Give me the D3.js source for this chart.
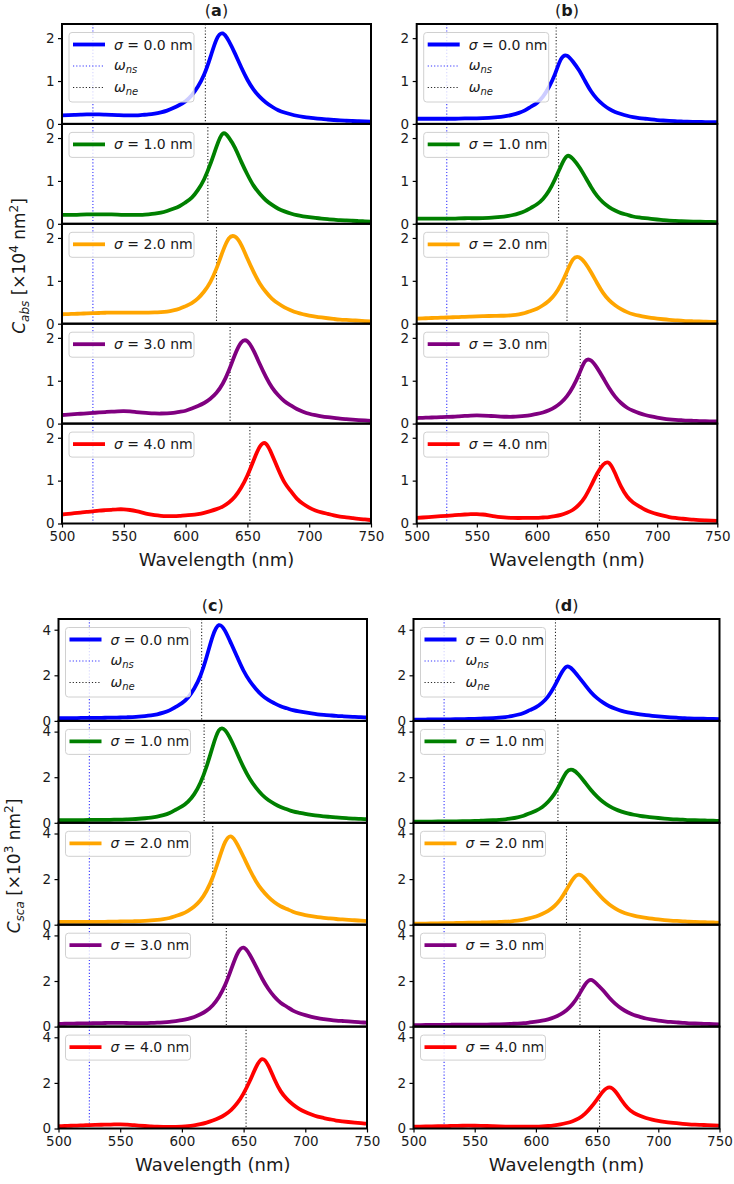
<!DOCTYPE html>
<html>
<head>
<meta charset="utf-8">
<script src="https://cdn.jsdelivr.net/npm/d3@7"></script>
<style>
  body { margin: 0; background: #fff; }
  svg { display: block; }
  text { font-family: "DejaVu Sans", sans-serif; fill: #1a1a1a; }
</style>
</head>
<body>
<svg id="fig" width="734" height="1184"></svg>
<script>
// Sample wavelengths (nm), every 5 nm, shared by every spectrum
const wavelengths = [500,505,510,515,520,525,530,535,540,545,550,555,560,565,570,575,580,585,590,595,600,605,610,615,620,625,630,635,640,645,650,655,660,665,670,675,680,685,690,695,700,705,710,715,720,725,730,735,740,745,750];

// Roughness sigma for each stacked row, and the row colours
const sigmaLabels = ["0.0", "1.0", "2.0", "3.0", "4.0"];
const rowColors = ["blue", "green", "orange", "purple", "red"];

// Resonance markers (nm)
const omegaNs = 525;
const omegaNe = [616, 618, 625, 636, 652];

// Tick values
const xTicks = [500, 550, 600, 650, 700, 750];
const absTicks = [0, 1, 2];
const scaTicks = [0, 2, 4];

// (a) absorption cross-section, x10^4 nm^2
const absA0 = [0.20,0.205,0.21,0.215,0.22,0.22,0.22,0.215,0.21,0.205,0.20,0.20,0.20,0.21,0.22,0.24,0.27,0.31,0.37,0.44,0.53,0.67,0.87,1.15,1.55,1.97,2.11,1.93,1.64,1.32,1.03,0.80,0.63,0.50,0.40,0.32,0.265,0.225,0.19,0.165,0.145,0.13,0.115,0.103,0.091,0.08,0.074,0.068,0.062,0.056,0.05];
const absA1 = [0.21,0.21,0.21,0.215,0.22,0.22,0.22,0.22,0.22,0.215,0.21,0.21,0.21,0.21,0.22,0.235,0.26,0.30,0.35,0.41,0.50,0.61,0.79,1.04,1.39,1.80,2.10,2.01,1.77,1.45,1.15,0.89,0.70,0.55,0.44,0.35,0.29,0.24,0.20,0.175,0.155,0.136,0.12,0.108,0.097,0.085,0.078,0.071,0.064,0.057,0.05];
const absA2 = [0.22,0.225,0.23,0.235,0.24,0.245,0.25,0.255,0.26,0.26,0.26,0.26,0.26,0.26,0.26,0.262,0.27,0.284,0.31,0.35,0.41,0.48,0.59,0.75,0.97,1.29,1.68,1.99,2.03,1.84,1.52,1.21,0.94,0.74,0.58,0.47,0.38,0.315,0.26,0.22,0.19,0.165,0.145,0.127,0.11,0.095,0.087,0.079,0.07,0.062,0.055];
const absA3 = [0.20,0.21,0.22,0.23,0.24,0.25,0.26,0.27,0.28,0.287,0.29,0.283,0.27,0.257,0.245,0.237,0.235,0.239,0.25,0.273,0.30,0.35,0.41,0.48,0.58,0.72,0.93,1.24,1.61,1.89,1.92,1.70,1.39,1.09,0.84,0.66,0.52,0.425,0.34,0.278,0.23,0.197,0.17,0.15,0.133,0.115,0.103,0.092,0.082,0.073,0.065];
const absA4 = [0.21,0.225,0.24,0.255,0.27,0.285,0.30,0.31,0.32,0.33,0.33,0.315,0.29,0.255,0.22,0.195,0.18,0.172,0.17,0.177,0.19,0.20,0.22,0.25,0.29,0.335,0.395,0.49,0.63,0.84,1.12,1.47,1.79,1.86,1.60,1.26,0.96,0.76,0.58,0.46,0.37,0.305,0.26,0.225,0.19,0.16,0.145,0.128,0.11,0.095,0.08];

// (b) absorption cross-section, x10^4 nm^2
const absB0 = [0.12,0.12,0.12,0.12,0.12,0.12,0.12,0.125,0.13,0.13,0.13,0.134,0.14,0.15,0.165,0.185,0.215,0.257,0.315,0.40,0.49,0.635,0.86,1.16,1.51,1.59,1.45,1.25,1.00,0.76,0.58,0.45,0.35,0.28,0.23,0.19,0.16,0.137,0.12,0.104,0.09,0.079,0.07,0.063,0.057,0.05,0.047,0.045,0.043,0.041,0.04];
const absB1 = [0.12,0.12,0.12,0.12,0.12,0.12,0.12,0.125,0.13,0.13,0.13,0.134,0.14,0.148,0.16,0.178,0.205,0.243,0.295,0.373,0.455,0.58,0.77,1.04,1.35,1.58,1.51,1.33,1.10,0.86,0.65,0.50,0.39,0.31,0.25,0.21,0.17,0.148,0.13,0.114,0.10,0.087,0.075,0.068,0.061,0.055,0.051,0.048,0.045,0.042,0.04];
const absB2 = [0.12,0.125,0.13,0.135,0.14,0.145,0.15,0.155,0.16,0.165,0.17,0.175,0.18,0.183,0.185,0.19,0.20,0.22,0.25,0.298,0.35,0.43,0.535,0.69,0.92,1.22,1.50,1.55,1.42,1.20,0.95,0.72,0.55,0.43,0.34,0.27,0.22,0.187,0.16,0.138,0.12,0.104,0.09,0.079,0.07,0.06,0.056,0.052,0.048,0.044,0.04];
const absB3 = [0.13,0.135,0.14,0.145,0.15,0.155,0.16,0.17,0.18,0.187,0.19,0.187,0.18,0.172,0.165,0.16,0.16,0.167,0.18,0.20,0.225,0.26,0.31,0.385,0.49,0.64,0.86,1.15,1.45,1.47,1.30,1.07,0.83,0.63,0.48,0.37,0.30,0.245,0.20,0.166,0.14,0.118,0.10,0.088,0.079,0.07,0.065,0.06,0.056,0.053,0.05];
const absB4 = [0.13,0.14,0.15,0.16,0.17,0.18,0.19,0.20,0.21,0.218,0.22,0.21,0.19,0.168,0.15,0.137,0.13,0.128,0.13,0.13,0.13,0.14,0.15,0.17,0.20,0.25,0.32,0.44,0.62,0.88,1.16,1.37,1.41,1.17,0.86,0.63,0.49,0.40,0.32,0.264,0.22,0.182,0.15,0.13,0.115,0.10,0.09,0.08,0.072,0.065,0.06];

// (c) scattering cross-section, x10^3 nm^2
const scaC0 = [0.12,0.12,0.12,0.125,0.13,0.13,0.13,0.135,0.14,0.145,0.15,0.158,0.17,0.186,0.21,0.242,0.29,0.36,0.46,0.615,0.78,1.03,1.42,1.98,2.80,3.72,4.20,3.95,3.38,2.78,2.20,1.75,1.40,1.12,0.92,0.77,0.64,0.553,0.47,0.414,0.37,0.327,0.29,0.265,0.243,0.22,0.205,0.19,0.175,0.162,0.15];
const scaC1 = [0.12,0.12,0.12,0.12,0.12,0.125,0.13,0.13,0.13,0.135,0.14,0.148,0.16,0.177,0.20,0.228,0.27,0.336,0.43,0.572,0.72,0.93,1.26,1.76,2.47,3.35,4.06,4.06,3.61,3.02,2.43,1.93,1.54,1.23,1.00,0.83,0.69,0.593,0.50,0.44,0.39,0.347,0.31,0.283,0.258,0.235,0.215,0.198,0.182,0.168,0.155];
const scaC2 = [0.12,0.12,0.12,0.12,0.12,0.12,0.12,0.125,0.13,0.135,0.14,0.145,0.15,0.158,0.17,0.186,0.21,0.244,0.295,0.382,0.475,0.61,0.80,1.07,1.49,2.08,2.87,3.62,3.87,3.51,2.97,2.41,1.91,1.52,1.22,0.98,0.81,0.689,0.57,0.485,0.42,0.373,0.335,0.303,0.275,0.25,0.232,0.213,0.195,0.177,0.16];
const scaC3 = [0.12,0.125,0.13,0.135,0.14,0.145,0.15,0.155,0.16,0.162,0.16,0.158,0.155,0.154,0.155,0.16,0.17,0.187,0.21,0.244,0.28,0.34,0.42,0.54,0.70,0.94,1.30,1.82,2.52,3.20,3.46,3.15,2.64,2.11,1.66,1.31,1.05,0.871,0.70,0.586,0.50,0.43,0.37,0.33,0.295,0.265,0.245,0.226,0.206,0.188,0.17];
const scaC4 = [0.10,0.11,0.12,0.13,0.14,0.15,0.16,0.165,0.17,0.177,0.18,0.168,0.15,0.13,0.11,0.093,0.08,0.073,0.07,0.073,0.08,0.10,0.14,0.19,0.26,0.35,0.46,0.61,0.82,1.12,1.54,2.08,2.68,3.04,2.76,2.16,1.64,1.30,1.05,0.86,0.72,0.61,0.52,0.46,0.405,0.35,0.315,0.285,0.257,0.232,0.21];

// (d) scattering cross-section, x10^3 nm^2
const scaD0 = [0.05,0.055,0.06,0.065,0.07,0.07,0.07,0.075,0.08,0.085,0.09,0.10,0.11,0.122,0.14,0.168,0.21,0.269,0.35,0.472,0.60,0.79,1.08,1.50,2.02,2.38,2.25,1.93,1.59,1.26,1.00,0.80,0.64,0.53,0.44,0.375,0.325,0.285,0.25,0.22,0.195,0.174,0.155,0.14,0.126,0.11,0.103,0.097,0.091,0.085,0.08];
const scaD1 = [0.05,0.05,0.05,0.055,0.06,0.06,0.06,0.065,0.07,0.075,0.08,0.09,0.10,0.113,0.13,0.154,0.19,0.24,0.31,0.418,0.53,0.68,0.92,1.26,1.73,2.22,2.32,2.11,1.78,1.44,1.15,0.91,0.73,0.59,0.49,0.41,0.353,0.307,0.27,0.237,0.21,0.186,0.165,0.152,0.139,0.12,0.113,0.106,0.099,0.092,0.085];
const scaD2 = [0.05,0.05,0.05,0.055,0.06,0.065,0.07,0.075,0.08,0.085,0.09,0.095,0.10,0.108,0.12,0.132,0.15,0.178,0.22,0.288,0.36,0.47,0.61,0.81,1.11,1.53,1.98,2.20,2.03,1.72,1.41,1.12,0.89,0.71,0.57,0.47,0.40,0.345,0.30,0.262,0.23,0.203,0.18,0.165,0.15,0.13,0.122,0.114,0.106,0.098,0.09];
const scaD3 = [0.06,0.065,0.07,0.07,0.07,0.075,0.08,0.085,0.09,0.09,0.09,0.09,0.09,0.095,0.10,0.108,0.12,0.133,0.15,0.184,0.22,0.26,0.32,0.41,0.54,0.72,0.99,1.38,1.83,2.05,1.86,1.58,1.27,1.00,0.79,0.63,0.51,0.43,0.355,0.305,0.265,0.233,0.205,0.184,0.165,0.145,0.135,0.126,0.117,0.108,0.10];
const scaD4 = [0.08,0.085,0.09,0.095,0.10,0.105,0.11,0.115,0.12,0.122,0.12,0.117,0.11,0.10,0.09,0.083,0.08,0.078,0.077,0.078,0.08,0.09,0.11,0.14,0.18,0.24,0.32,0.44,0.64,0.93,1.28,1.63,1.80,1.62,1.24,0.90,0.68,0.555,0.46,0.39,0.335,0.295,0.26,0.232,0.207,0.185,0.17,0.158,0.146,0.135,0.125];

// Panel frames and axis settings
const panels = [
  { tag: "a", left: 62,    right: 371,   top: 24,  bottom: 523.5,  yMax: 2.33, ticks: absTicks,
    series: [absA0, absA1, absA2, absA3, absA4], ylabel: { sub: "abs", exp: "4", x: 25, y: 266 } },
  { tag: "b", left: 416.7, right: 717.3, top: 24,  bottom: 523.5,  yMax: 2.33, ticks: absTicks,
    series: [absB0, absB1, absB2, absB3, absB4] },
  { tag: "c", left: 58.5,  right: 367,   top: 619, bottom: 1128.5, yMax: 4.47, ticks: scaTicks,
    series: [scaC0, scaC1, scaC2, scaC3, scaC4], ylabel: { sub: "sca", exp: "3", x: 20, y: 866 } },
  { tag: "d", left: 413.5, right: 719.5, top: 619, bottom: 1128.5, yMax: 4.47, ticks: scaTicks,
    series: [scaD0, scaD1, scaD2, scaD3, scaD4] }
];

const svg = d3.select("#fig");
svg.append("rect").attr("width", 734).attr("height", 1184).attr("fill", "#fff");

const TICK_FONT = 13.5;
const dotted = "1.2,2";
const nsOpacity = 0.8;
const neOpacity = 0.85;

panels.forEach(p => {
  const g = svg.append("g");
  const rowH = (p.bottom - p.top) / 5;
  const x = d3.scaleLinear().domain([500, 750]).range([p.left, p.right]);

  p.series.forEach((vals, k) => {
    const rowTop = p.top + k * rowH;
    const rowBot = rowTop + rowH;
    const y = d3.scaleLinear().domain([0, p.yMax]).range([rowBot, rowTop]);
    const clipId = `clip-${p.tag}-${k}`;
    g.append("clipPath").attr("id", clipId)
      .append("rect").attr("x", p.left).attr("y", rowTop)
      .attr("width", p.right - p.left).attr("height", rowH);

    const plot = g.append("g").attr("clip-path", `url(#${clipId})`);

    // omega_ns marker
    plot.append("line")
      .attr("x1", x(omegaNs)).attr("x2", x(omegaNs))
      .attr("y1", rowTop).attr("y2", rowBot)
      .attr("stroke", "blue").attr("stroke-opacity", nsOpacity)
      .attr("stroke-width", 1.1).attr("stroke-dasharray", dotted);

    // omega_ne marker
    plot.append("line")
      .attr("x1", x(omegaNe[k])).attr("x2", x(omegaNe[k]))
      .attr("y1", rowTop).attr("y2", rowBot)
      .attr("stroke", "black").attr("stroke-opacity", neOpacity)
      .attr("stroke-width", 1.1).attr("stroke-dasharray", dotted);

    // spectrum
    const pts = wavelengths.map((w, i) => [w, vals[i]]);
    const line = d3.line()
      .x(d => x(d[0])).y(d => y(d[1]))
      .curve(d3.curveNatural);
    plot.append("path").datum(pts)
      .attr("d", line)
      .attr("fill", "none")
      .attr("stroke", rowColors[k])
      .attr("stroke-width", 3.8)
      .attr("stroke-linejoin", "round");

    // legend
    const lg = g.append("g");
    const lx = p.left + 7;
    const boxH = k === 0 ? 69.5 : 25;
    lg.append("rect")
      .attr("x", lx).attr("y", rowTop + 8.5)
      .attr("width", 125).attr("height", boxH)
      .attr("rx", 3).attr("ry", 3)
      .attr("fill", "#fff").attr("fill-opacity", 0.8)
      .attr("stroke", "#d0d0d0").attr("stroke-width", 1);

    const rowsY = [rowTop + 20.5, rowTop + 42, rowTop + 63.5];
    lg.append("line")
      .attr("x1", lx + 4).attr("x2", lx + 36)
      .attr("y1", rowsY[0]).attr("y2", rowsY[0])
      .attr("stroke", rowColors[k]).attr("stroke-width", 3.8);
    const t1 = lg.append("text")
      .attr("x", lx + 45).attr("y", rowsY[0] + 5)
      .attr("font-size", 14);
    t1.append("tspan").attr("font-style", "italic").text("σ");
    t1.append("tspan").text(" = " + sigmaLabels[k] + " nm");

    if (k === 0) {
      const marks = [
        { sub: "ns", color: "blue", op: nsOpacity },
        { sub: "ne", color: "black", op: neOpacity }
      ];
      marks.forEach((m, j) => {
        const yy = rowsY[j + 1];
        lg.append("line")
          .attr("x1", lx + 4).attr("x2", lx + 36)
          .attr("y1", yy).attr("y2", yy)
          .attr("stroke", m.color).attr("stroke-opacity", m.op)
          .attr("stroke-width", 1.1).attr("stroke-dasharray", dotted);
        const t = lg.append("text")
          .attr("x", lx + 45).attr("y", yy + 4)
          .attr("font-size", 14).attr("font-style", "italic");
        t.append("tspan").text("ω");
        t.append("tspan").attr("font-size", 10).attr("dy", 3).text(m.sub);
      });
    }

    // y axis of this row
    const ya = g.append("g").attr("transform", `translate(${p.left},0)`)
      .call(d3.axisLeft(y).tickValues(p.ticks).tickFormat(d3.format("d"))
        .tickSize(4).tickPadding(3.5));
    ya.select(".domain").remove();
    ya.selectAll("line").attr("stroke", "#000").attr("stroke-width", 1.2);
    ya.selectAll("text").attr("font-size", TICK_FONT)
      .attr("font-family", "DejaVu Sans").attr("fill", "#1a1a1a");

    // frame of this row
    g.append("rect")
      .attr("x", p.left).attr("y", rowTop)
      .attr("width", p.right - p.left).attr("height", rowH)
      .attr("fill", "none").attr("stroke", "#000").attr("stroke-width", 2);

    if (k === 4) {
      const xa = g.append("g").attr("transform", `translate(0,${rowBot})`)
        .call(d3.axisBottom(x).tickValues(xTicks).tickFormat(d3.format("d"))
          .tickSize(4).tickPadding(3.5));
      xa.select(".domain").remove();
      xa.selectAll("line").attr("stroke", "#000").attr("stroke-width", 1.2);
      xa.selectAll("text").attr("font-size", TICK_FONT)
        .attr("font-family", "DejaVu Sans").attr("fill", "#1a1a1a");

      g.append("text")
        .attr("x", (p.left + p.right) / 2).attr("y", rowBot + 42)
        .attr("text-anchor", "middle").attr("font-size", 18)
        .text("Wavelength (nm)");
    }
  });

  // panel title with bold letter
  const title = g.append("text")
    .attr("x", (p.left + p.right) / 2).attr("y", p.top - 8)
    .attr("text-anchor", "middle").attr("font-size", 16);
  title.append("tspan").text("(");
  title.append("tspan").attr("font-weight", "bold").text(p.tag);
  title.append("tspan").text(")");

  // shared y label
  if (p.ylabel) {
    const yl = g.append("text")
      .attr("transform", `translate(${p.ylabel.x},${p.ylabel.y}) rotate(-90)`)
      .attr("text-anchor", "middle").attr("font-size", 17);
    yl.append("tspan").attr("font-style", "italic").text("C");
    yl.append("tspan").attr("font-style", "italic").attr("font-size", 12).attr("dy", 4).text(p.ylabel.sub);
    yl.append("tspan").attr("dy", -4).text(" [×10");
    yl.append("tspan").attr("font-size", 12).attr("dy", -7).text(p.ylabel.exp);
    yl.append("tspan").attr("dy", 7).text(" nm");
    yl.append("tspan").attr("font-size", 12).attr("dy", -7).text("2");
    yl.append("tspan").attr("dy", 7).text("]");
  }
});
</script>
</body>
</html>
